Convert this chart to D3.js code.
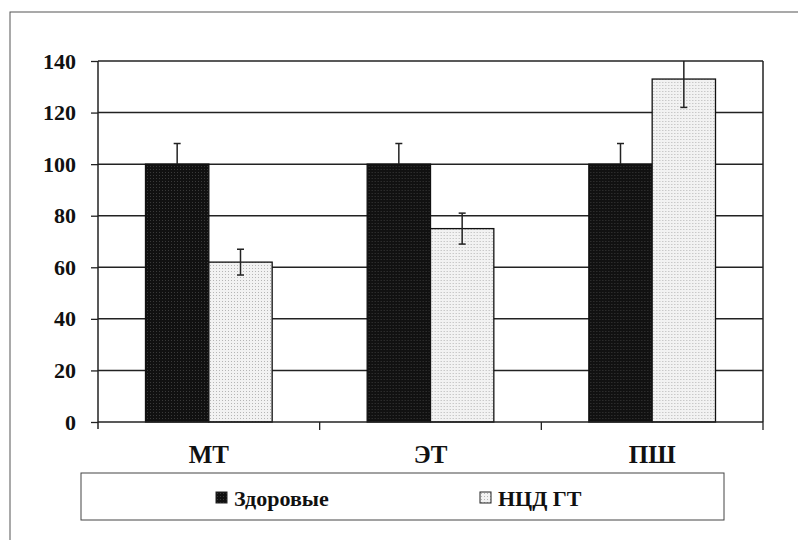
<!DOCTYPE html>
<html>
<head>
<meta charset="utf-8">
<script src="https://cdn.jsdelivr.net/npm/d3@7"></script>
</head>
<body style="margin:0">
<svg width="798" height="540"></svg>
<script>
var categories = ["МТ", "ЭТ", "ПШ"];
var seriesNames = ["Здоровые", "НЦД ГТ"];
var healthy = [100, 100, 100];
var healthyErr = [8, 8, 8];
var ncd = [62, 75, 133];
var ncdErr = [5, 6, 11];
var yTicks = [0, 20, 40, 60, 80, 100, 120, 140];

var svg = d3.select("svg"),
    marginLeft = 98,
    marginRight = 35,
    plotTop = 61,
    plotBottom = 422,
    width = +svg.attr("width");

function font(size) {
    return "bold " + size + "px Liberation Serif, Tinos, Times New Roman, serif";
}

// patterns for bar fills
var defs = svg.append("defs");
var pDark = defs.append("pattern")
    .attr("id", "pDark").attr("patternUnits", "userSpaceOnUse")
    .attr("width", 3).attr("height", 3);
pDark.append("rect").attr("width", 3).attr("height", 3).attr("fill", "#111");
pDark.append("rect").attr("x", 1).attr("y", 1).attr("width", 1).attr("height", 1).attr("fill", "#3a3a3a");

var pLight = defs.append("pattern")
    .attr("id", "pLight").attr("patternUnits", "userSpaceOnUse")
    .attr("width", 3).attr("height", 3);
pLight.append("rect").attr("width", 3).attr("height", 3).attr("fill", "#f2f2f2");
pLight.append("rect").attr("x", 1).attr("y", 1).attr("width", 1).attr("height", 1).attr("fill", "#b5b5b5");

var fills = ["url(#pDark)", "url(#pLight)"];

// outer frame
svg.append("rect")
    .attr("x", 10).attr("y", 12)
    .attr("width", 820).attr("height", 560)
    .attr("fill", "none").attr("stroke", "#555").attr("stroke-width", 1);

var x0 = d3.scaleBand()
    .domain(categories)
    .range([marginLeft, width - marginRight])
    .paddingInner(0).paddingOuter(0);

var x1 = d3.scaleBand()
    .domain(seriesNames)
    .range([0, x0.bandwidth()])
    .paddingInner(0).paddingOuter(0.75);

var y = d3.scaleLinear().domain([0, 140]).range([plotBottom, plotTop]);

var plotRight = x0.range()[1];

// gridlines
svg.append("g").selectAll("line")
    .data(yTicks.filter(d => d > 0))
    .enter().append("line")
    .attr("x1", marginLeft).attr("x2", plotRight)
    .attr("y1", d => y(d)).attr("y2", d => y(d))
    .attr("stroke", "#222").attr("stroke-width", 1.5);

// right border
svg.append("line")
    .attr("x1", plotRight).attr("x2", plotRight)
    .attr("y1", plotTop).attr("y2", plotBottom)
    .attr("stroke", "#222").attr("stroke-width", 1.5);

var data = categories.map((c, i) => ({
    cat: c,
    vals: [
        {name: seriesNames[0], v: healthy[i], e: healthyErr[i], s: 0},
        {name: seriesNames[1], v: ncd[i], e: ncdErr[i], s: 1}
    ]
}));

var groups = svg.append("g").selectAll("g")
    .data(data)
    .enter().append("g")
    .attr("transform", d => "translate(" + x0(d.cat) + ",0)");

groups.selectAll("rect")
    .data(d => d.vals)
    .enter().append("rect")
    .attr("x", d => x1(d.name))
    .attr("y", d => y(d.v))
    .attr("width", x1.bandwidth())
    .attr("height", d => y(0) - y(d.v))
    .attr("fill", d => fills[d.s])
    .attr("stroke", "#111").attr("stroke-width", 1.3);

// error bars, upper end cut at the top of the plot
var err = groups.selectAll("g.err")
    .data(d => d.vals)
    .enter().append("g")
    .attr("class", "err");

function cx(d) { return x1(d.name) + x1.bandwidth() / 2; }

err.append("line")
    .attr("x1", cx).attr("x2", cx)
    .attr("y1", d => Math.max(y(d.v + d.e), plotTop))
    .attr("y2", d => d.s == 0 ? y(d.v) : y(d.v - d.e))
    .attr("stroke", "#222").attr("stroke-width", 1.5);

err.filter(d => y(d.v + d.e) >= plotTop).append("line")
    .attr("x1", d => cx(d) - 3.5).attr("x2", d => cx(d) + 3.5)
    .attr("y1", d => y(d.v + d.e)).attr("y2", d => y(d.v + d.e))
    .attr("stroke", "#222").attr("stroke-width", 1.5);

err.filter(d => d.s == 1).append("line")
    .attr("x1", d => cx(d) - 3.5).attr("x2", d => cx(d) + 3.5)
    .attr("y1", d => y(d.v - d.e)).attr("y2", d => y(d.v - d.e))
    .attr("stroke", "#222").attr("stroke-width", 1.5);

// y axis: tick marks from d3, labels added separately
var gy = svg.append("g")
    .attr("transform", "translate(" + marginLeft + ",0)")
    .call(d3.axisLeft(y).tickValues(yTicks).tickSize(7).tickSizeOuter(0).tickFormat(""));
gy.select(".domain").attr("stroke", "#222").attr("stroke-width", 1.5)
    .attr("d", "M0," + plotTop + "V" + (plotBottom + 7));
gy.selectAll(".tick line").attr("stroke", "#222").attr("stroke-width", 1.3);

svg.append("g").selectAll("text")
    .data(yTicks)
    .enter().append("text")
    .attr("x", marginLeft - 22)
    .attr("y", d => y(d) + 7.5)
    .attr("text-anchor", "end")
    .attr("fill", "#111")
    .style("font", font(22))
    .text(d => d);

// x axis
svg.append("line")
    .attr("x1", marginLeft).attr("x2", plotRight)
    .attr("y1", plotBottom).attr("y2", plotBottom)
    .attr("stroke", "#222").attr("stroke-width", 1.5);

var bounds = categories.map(c => x0(c)).concat([plotRight]);
svg.append("g").selectAll("line")
    .data(bounds.slice(1))
    .enter().append("line")
    .attr("x1", d => d).attr("x2", d => d)
    .attr("y1", plotBottom).attr("y2", plotBottom + 8)
    .attr("stroke", "#222").attr("stroke-width", 1.3);

svg.append("g").selectAll("text")
    .data(categories)
    .enter().append("text")
    .attr("x", d => x0(d) + x0.bandwidth() / 2)
    .attr("y", 463)
    .attr("text-anchor", "middle")
    .attr("fill", "#111")
    .style("font", font(25))
    .text(d => d);

// legend
var legend = svg.append("g");
legend.append("rect")
    .attr("x", 81).attr("y", 473)
    .attr("width", 643).attr("height", 47)
    .attr("fill", "#fff").attr("stroke", "#444").attr("stroke-width", 1);

var legendX = [216, 480];
var items = legend.selectAll("g.item")
    .data(seriesNames)
    .enter().append("g")
    .attr("class", "item")
    .attr("transform", (d, i) => "translate(" + legendX[i] + ",0)");

items.append("rect")
    .attr("x", 0).attr("y", 492)
    .attr("width", 11).attr("height", 11)
    .attr("fill", (d, i) => fills[i])
    .attr("stroke", "#222").attr("stroke-width", 1);

items.append("text")
    .attr("x", 18).attr("y", 506)
    .attr("fill", "#111")
    .style("font", font(22))
    .text(d => d);
</script>
</body>
</html>
